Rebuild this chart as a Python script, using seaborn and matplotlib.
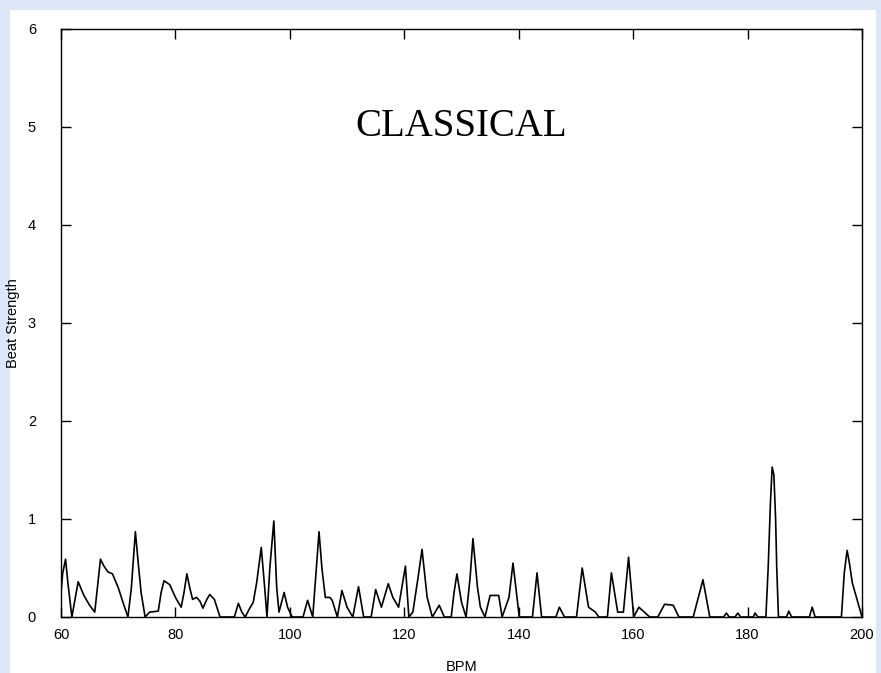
import matplotlib
matplotlib.use("Agg")
import matplotlib.pyplot as plt
import seaborn as sns
import pandas as pd

bpm = [60.0, 60.3, 60.8, 61.2, 61.9, 63.0, 64.0, 65.0, 65.9, 66.9, 67.5, 68.2, 69.0, 70.0, 71.0, 71.7,
       72.3, 73.0, 73.5, 74.0, 74.7, 75.5, 77.0, 77.5, 78.0, 79.0, 80.0, 81.0, 81.5, 82.0, 82.5, 83.0,
       83.7, 84.3, 84.8, 85.5, 86.0, 86.8, 87.8, 90.3, 91.0, 91.6, 92.2, 92.8, 93.6, 94.2, 95.0, 95.6,
       96.0, 96.5, 97.2, 97.7, 98.1, 99.0, 99.6, 100.4, 102.3, 103.1, 104.0, 104.5, 105.1, 105.6, 106.2,
       107.0, 107.4, 108.3, 109.1, 110.0, 111.0, 112.0, 112.9, 114.2, 115.0, 116.0, 117.2, 118.0, 119.0,
       120.2, 120.8, 121.5, 122.4, 123.1, 124.0, 124.9, 126.1, 127.0, 128.2, 128.7, 129.2, 130.0, 130.8,
       131.5, 132.0, 132.8, 133.3, 134.1, 135.0, 136.5, 137.1, 138.3, 139.0, 139.7, 140.1, 142.4, 143.2,
       144.0, 146.5, 147.1, 148.0, 150.1, 151.1, 152.2, 153.4, 154.0, 155.5, 156.2, 157.3, 158.3, 159.2,
       160.1, 161.0, 162.9, 164.3, 165.5, 167.0, 168.0, 170.5, 172.2, 173.4, 175.8, 176.3, 176.8, 177.8,
       178.3, 178.8, 181.0, 181.3, 181.8, 183.2, 183.6, 184.0, 184.3, 184.6, 184.9, 185.1, 185.4, 186.8,
       187.2, 187.7, 190.8, 191.3, 191.8, 196.4, 196.9, 197.4, 197.8, 198.3, 200.0]
strength = [0.25, 0.45, 0.59, 0.35, 0.0, 0.36, 0.22, 0.12, 0.05, 0.59, 0.52, 0.46, 0.44, 0.30, 0.12, 0.0,
            0.30, 0.87, 0.55, 0.25, 0.0, 0.05, 0.06, 0.25, 0.37, 0.33, 0.20, 0.10, 0.25, 0.44, 0.30, 0.18,
            0.20, 0.16, 0.09, 0.18, 0.23, 0.18, 0.0, 0.0, 0.14, 0.05, 0.0, 0.07, 0.15, 0.35, 0.71, 0.30,
            0.0, 0.50, 0.98, 0.30, 0.05, 0.25, 0.10, 0.0, 0.0, 0.17, 0.0, 0.40, 0.87, 0.50, 0.20,
            0.20, 0.17, 0.0, 0.27, 0.10, 0.0, 0.31, 0.0, 0.0, 0.28, 0.10, 0.34, 0.20, 0.10,
            0.52, 0.0, 0.05, 0.40, 0.69, 0.20, 0.0, 0.12, 0.0, 0.0, 0.25, 0.44, 0.15, 0.0,
            0.40, 0.80, 0.30, 0.10, 0.0, 0.22, 0.22, 0.0, 0.20, 0.55, 0.20, 0.0, 0.0, 0.45,
            0.0, 0.0, 0.10, 0.0, 0.0, 0.50, 0.10, 0.05, 0.0, 0.0, 0.45, 0.05, 0.05, 0.61,
            0.0, 0.10, 0.0, 0.0, 0.13, 0.12, 0.0, 0.0, 0.38, 0.0, 0.0, 0.04, 0.0, 0.0,
            0.04, 0.0, 0.0, 0.04, 0.0, 0.0, 0.50, 1.17, 1.53, 1.45, 1.00, 0.50, 0.0, 0.0,
            0.06, 0.0, 0.0, 0.10, 0.0, 0.0, 0.45, 0.68, 0.55, 0.35, 0.0]

x_ticks = [60, 80, 100, 120, 140, 160, 180, 200]
y_ticks = [0, 1, 2, 3, 4, 5, 6]
title_text = "CLASSICAL"

sns.set_theme(style="white")
plt.rcParams['font.family'] = ['Liberation Sans', 'DejaVu Sans']

df = pd.DataFrame({"BPM": bpm, "Beat Strength": strength})

fig = plt.figure(figsize=(8.81, 6.73), dpi=100)
fig.patch.set_facecolor("#dbe7f6")
bg = fig.add_axes([10 / 881, 0, 866 / 881, 663 / 673], zorder=-5)
bg.set_facecolor("white")
bg.set_xticks([])
bg.set_yticks([])
for s in bg.spines.values():
    s.set_visible(False)

ax = fig.add_axes([61 / 881, 56 / 673, 801 / 881, 588 / 673], zorder=1)
ax.set_facecolor("white")

sns.lineplot(data=df, x="BPM", y="Beat Strength", ax=ax, color="black", linewidth=1.2,
             estimator=None, sort=False)

ax.set_xlim(60, 200)
ax.set_ylim(0, 6)
ax.set_xticks(x_ticks)
ax.set_yticks(y_ticks)
ax.set_xticklabels([str(t) for t in x_ticks])
ax.set_yticklabels([str(t) for t in y_ticks])
ax.tick_params(direction="in", length=7, width=1.0, colors="black", labelcolor="black",
               labelsize=10.5, top=True, right=True, bottom=True, left=True)
ax.tick_params(axis="x", pad=8)
ax.tick_params(axis="y", pad=18)
for s in ax.spines.values():
    s.set_color("black")
    s.set_linewidth(1.0)
    s.set_visible(True)

ax.set_xlabel("BPM", fontsize=10.5, color="black")
ax.set_ylabel("Beat Strength", fontsize=10.5, color="black")
ax.xaxis.set_label_coords(0.5, -0.073)
ax.yaxis.set_label_coords(-0.051, 0.5)

ax.text(0.5, 0.835, title_text, transform=ax.transAxes, ha="center", va="center",
        fontsize=28, family=["Liberation Serif", "DejaVu Serif"], color="black")

fig.savefig("out.png", dpi=100, facecolor=fig.get_facecolor())
